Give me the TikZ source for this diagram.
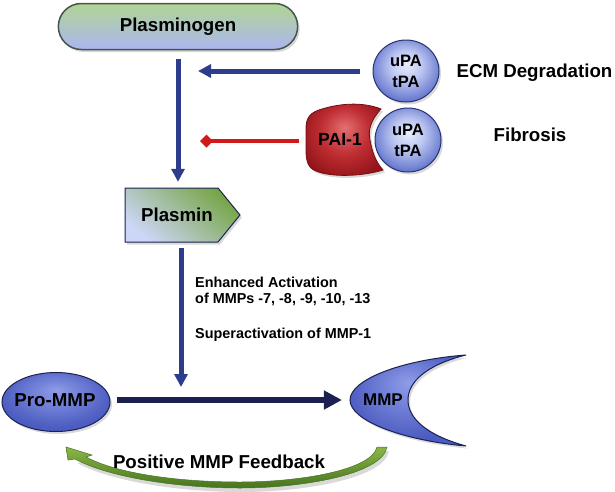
\documentclass[tikz,border=0pt]{standalone}
\usepackage{fontspec}
\setmainfont{Liberation Sans}
\usetikzlibrary{arrows.meta,shapes.misc,shapes.geometric,shadows}
\definecolor{pilltop}{RGB}{176,213,148}
\definecolor{pillbot}{RGB}{172,182,240}
\definecolor{pillline}{RGB}{70,85,75}
\definecolor{navy}{RGB}{46,60,140}
\definecolor{darknavy}{RGB}{28,33,82}
\definecolor{ballline}{RGB}{40,50,112}
\definecolor{inhred}{RGB}{210,25,25}
\definecolor{balla}{RGB}{234,238,252}
\definecolor{ballb}{RGB}{188,198,241}
\definecolor{ballc}{RGB}{102,120,206}
\definecolor{proa}{RGB}{142,156,232}
\definecolor{prob}{RGB}{76,92,192}
\definecolor{paia}{RGB}{228,112,112}
\definecolor{paib}{RGB}{190,45,50}
\definecolor{paic}{RGB}{148,20,25}
\definecolor{pailine}{RGB}{115,15,20}
\definecolor{plasgreen}{RGB}{118,165,70}
\definecolor{plasblue}{RGB}{204,214,246}
\definecolor{fbtop}{RGB}{138,182,72}
\definecolor{fbbot}{RGB}{72,116,32}
\pgfdeclareradialshading{upaball}{\pgfpoint{0bp}{6bp}}{color(0bp)=(balla); color(12bp)=(ballb); color(27bp)=(ballc); color(50bp)=(ballc)}
\pgfdeclareradialshading{proshade}{\pgfpoint{0bp}{10bp}}{color(0bp)=(proa); color(26bp)=(prob); color(50bp)=(prob)}
\pgfdeclareradialshading{paishade}{\pgfpoint{0bp}{8bp}}{color(0bp)=(paia); color(16bp)=(paib); color(30bp)=(paic); color(50bp)=(paic)}
\begin{document}
\begin{tikzpicture}[x=1pt,y=-1pt,
  big/.style={font=\fontsize{18.7}{22}\selectfont\bfseries},
  mid/.style={font=\fontsize{16.5}{21}\selectfont\bfseries, align=center},
  small/.style={font=\fontsize{14.4}{16.5}\selectfont\bfseries},
  conn/.style={draw=navy, line width=5pt, -{Triangle[length=13pt,width=13pt]}},
  shadowed/.style={drop shadow={opacity=0.3,shadow xshift=2pt,shadow yshift=-2.5pt}},
  ball/.style={ellipse, draw=ballline, line width=1pt, shade, shading=upaball, inner sep=0pt, shadowed, mid},
]
\useasboundingbox (0,0) rectangle (615,491);

% Plasminogen
\node[rounded rectangle, minimum width=246pt, minimum height=46pt, draw=pillline,
  line width=1.5pt, top color=pilltop, bottom color=pillbot, shadowed, big] (plg) at (178,26.5) {Plasminogen};

% Plasmin shape and label
\path[draw=darknavy, line width=1pt, top color=plasgreen, bottom color=plasblue, shading angle=-40, shadowed]
  (125,188) -- (218,188) -- (240,215) -- (218,242) -- (125,242) -- cycle;
\node[big, minimum width=93pt, minimum height=54pt, inner sep=0pt] (plasmin) at (177,215) {Plasmin};

% uPA / tPA (top)
\node[ball, minimum width=66pt, minimum height=62pt] (upa1) at (406,71) {uPA\\tPA};

% PAI-1 shape
\path[shade, shading=paishade, draw=pailine, line width=0.8pt, shadowed]
  (381,109) .. controls (370,121) and (368,131) .. (370,140)
  .. controls (372,151) and (375,161) .. (383,170)
  .. controls (360,177) and (330,177) .. (316,171)
  .. controls (308,168) and (306,161) .. (306,150)
  -- (306,128) .. controls (306,117) and (311,112) .. (322,109)
  .. controls (345,102) and (366,103) .. cycle;
\node[font=\fontsize{17.6}{20}\selectfont\bfseries, inner sep=0pt] (pai) at (340,139) {PAI-1};

% uPA / tPA (bound)
\node[ball, minimum width=66pt, minimum height=64pt] (upa2) at (408,140) {uPA\\tPA};

% Right-hand labels
\node[big, anchor=base] (ecm) at (534.5,77) {ECM Degradation};
\node[big, anchor=base] (fib) at (530,141) {Fibrosis};

% Connectors
\coordinate (uend) at (198,71);
\draw[conn, shorten <=13pt] (upa1.west) -- (uend);
\draw[conn, shorten <=9pt, shorten >=6pt] (plg.south) -- (plg.south |- plasmin.north);
\coordinate (inh) at (200,141);
\draw[draw=inhred, line width=4pt, -{Diamond[length=13pt,width=13pt]}, shorten <=19pt] (pai.west |- inh) -- (inh);

\coordinate (act) at (181,387);
\draw[conn, shorten <=6pt] (plasmin.south -| act) -- (act);

% Activation text
\node[small, anchor=base west, inner sep=0pt] (t1) at (195,287) {Enhanced Activation};
\node[small, anchor=base west, inner sep=0pt] (t2) at (195,303) {of MMPs -7, -8, -9, -10, -13};
\node[small, anchor=base west, inner sep=0pt] (t3) at (195,338) {Superactivation of MMP-1};

% Pro-MMP
\path[shade, shading=proshade, draw=darknavy, line width=1pt, shadowed] (56,402) ellipse [x radius=54, y radius=29.5];
\node[big, minimum width=108pt, inner sep=0pt] (pro) at (55,400) {Pro-MMP};

% MMP crescent
\path[shade, shading=proshade, draw=darknavy, line width=1pt, shadowed]
  (466,355) .. controls (400,360) and (350,380) .. (350,400)
  .. controls (350,420) and (400,440) .. (466,446)
  .. controls (426,435) and (408,418) .. (408,400)
  .. controls (408,382) and (426,365) .. (466,355) -- cycle;
\node[font=\fontsize{17}{20}\selectfont\bfseries, inner sep=0pt] (mmp) at (383,400) {MMP};

\draw[draw=darknavy, line width=6pt, -{Triangle[length=18pt,width=18pt]}, shorten <=8pt, shorten >=21pt] (pro.east) -- (mmp.west);

% Positive feedback arrow
\begin{scope}[shift={(2,4)}]
\fill[black, opacity=0.15]
  (387,447) .. controls (382,475) and (300,488) .. (240,488)
  .. controls (180,488) and (110,478) .. (75,459)
  -- (86,457) .. controls (118,474) and (180,482) .. (240,482)
  .. controls (300,482) and (372,470) .. (377,447) -- cycle;
\end{scope}
\path[top color=fbtop, bottom color=fbbot, draw=fbbot, line width=0.5pt]
  (387,447) .. controls (382,475) and (300,488) .. (240,488)
  .. controls (180,488) and (110,478) .. (75,459)
  -- (68,460) -- (66,447) -- (92,455) -- (86,457)
  .. controls (118,474) and (180,482) .. (240,482)
  .. controls (300,482) and (372,470) .. (377,447) -- cycle;
\node[big, anchor=base] (fb) at (219,468) {Positive MMP Feedback};
\end{tikzpicture}
\end{document}
